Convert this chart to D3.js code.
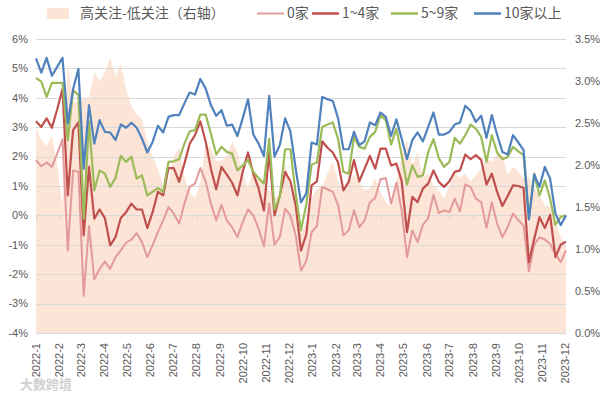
<!DOCTYPE html>
<html><head><meta charset="utf-8">
<script src="https://cdn.jsdelivr.net/npm/d3@7/dist/d3.min.js"></script>
<style>body{margin:0;background:#fff}svg{display:block}</style>
</head><body><svg id="c" width="607" height="399"></svg>
<script>
// ---- data ----
const monthLabels = ["2022-1","2022-2","2022-3","2022-4","2022-5","2022-6","2022-7","2022-8","2022-9","2022-10","2022-11","2022-12",
 "2023-1","2023-2","2023-3","2023-4","2023-5","2023-6","2023-7","2023-8","2023-9","2023-10","2023-11","2023-12"];
const leftTicks = [-4,-3,-2,-1,0,1,2,3,4,5,6];
const rightTicks = [0,0.5,1,1.5,2,2.5,3,3.5];
const seriesNames = ["高关注-低关注（右轴）","0家","1~4家","5~9家","10家以上"];
// weekly observations, first week starting 2022-01-01 (values in %)
const spread = [2.45,2.3,2.22,2.35,2.0,1.5,3.2,2.75,2.75,2.8,2.8,3.1,3.0,3.1,3.27,3.05,3.2,2.9,2.7,2.6,
 2.55,2.28,2.1,1.95,1.75,1.8,2.1,2.2,1.85,1.68,1.6,1.8,2.25,2.2,2.05,2.05,2.1,2.28,2.15,1.9,
 1.72,1.95,1.85,1.75,1.7,1.6,1.65,2.02,1.7,1.5,1.2,1.3,1.6,1.72,1.74,1.9,2.04,1.8,1.7,1.8,
 1.88,1.8,1.7,1.72,1.84,1.68,1.56,1.5,1.8,2.1,2.3,2.0,2.15,1.85,1.9,1.75,1.7,1.6,1.76,1.9,
 1.85,1.9,1.8,1.88,1.96,2.07,2.04,2.13,2.12,1.88,1.98,1.92,1.84,1.86,1.72,1.64,1.52,1.5,1.3,1.15,1.04];
const s0 = [1.88,1.67,1.8,1.65,2.1,2.59,-1.19,1.53,1.48,-2.73,-0.36,-2.18,-1.82,-1.57,-1.82,-1.42,-1.19,-0.93,-0.82,-0.6,
 -0.91,-1.42,-1.02,-0.57,-0.17,0.28,0.06,-0.28,0.4,0.97,1.08,1.61,1.16,0.4,-0.17,0.36,-0.17,-0.4,-0.74,-0.23,
 0.2,0.0,-0.45,-1.05,0.4,-1.0,-0.74,0.23,0.0,-0.68,-1.88,-1.55,-0.57,-0.36,0.97,0.89,0.8,0.35,-0.68,-0.51,
 0.17,-0.4,-0.17,0.45,0.59,1.23,1.27,0.4,1.11,0.17,-1.42,-0.51,-0.91,-0.32,-0.09,0.7,0.08,0.17,0.11,0.57,
 0.14,1.05,0.97,0.57,0.45,-0.43,0.45,-0.28,-0.74,-0.4,0.06,-0.17,-0.34,-1.9,-1.0,-0.74,-0.82,-0.97,-1.31,-1.59,-1.19];
const s14 = [3.2,3.01,3.3,2.98,3.6,4.3,0.68,2.9,3.16,-0.68,1.65,-0.11,0.2,-0.09,-1.02,-0.74,-0.09,0.11,0.4,0.2,
 0.2,-0.43,0.11,0.8,0.68,1.61,1.61,1.14,1.76,2.44,2.73,3.2,2.52,1.59,0.89,1.65,1.39,1.11,0.68,1.48,
 2.14,1.42,0.91,0.17,2.16,0.0,0.68,1.48,1.16,0.34,-1.2,-0.65,1.02,1.16,2.52,2.3,2.14,1.8,0.85,1.14,
 1.88,1.16,1.59,2.02,1.59,2.27,2.27,1.7,1.76,1.16,-0.57,0.63,0.45,0.91,1.08,1.53,1.14,0.97,1.16,1.48,
 1.53,2.07,1.91,2.05,1.88,1.05,1.42,0.8,0.32,0.66,1.02,1.0,0.93,-1.59,-0.8,-0.06,-0.43,0.02,-1.42,-1.0,-0.89];
const s59 = [4.68,4.55,4.03,4.51,4.51,4.51,2.56,4.26,4.09,-0.11,3.2,0.85,1.53,1.42,0.97,1.27,2.02,1.82,2.0,1.25,
 1.36,0.68,0.8,0.93,0.8,1.82,1.84,1.91,2.44,2.86,2.9,3.43,3.43,2.78,2.07,2.33,2.16,2.1,1.53,1.7,
 1.88,1.48,1.27,1.08,2.6,0.2,0.63,2.25,2.25,0.74,-0.5,0.37,1.73,1.8,3.01,3.09,3.16,2.6,1.48,1.42,
 2.67,2.33,2.27,2.67,2.84,3.41,3.24,2.41,2.95,2.05,1.05,1.7,1.31,1.36,2.16,2.59,1.95,1.65,1.82,2.64,
 2.44,2.73,3.09,2.95,2.67,1.82,2.73,2.14,1.91,1.99,2.33,2.18,2.05,-0.11,1.42,0.68,1.19,0.57,-0.32,-0.05,0.0];
const s10 = [5.34,4.86,5.36,4.75,5.05,5.36,3.13,4.3,4.98,1.59,3.75,2.44,3.24,2.84,2.82,2.56,3.09,2.98,3.15,2.98,
 2.61,2.14,2.5,3.05,2.82,3.35,3.41,3.41,3.81,4.18,4.11,4.64,4.32,3.75,3.39,3.58,3.05,3.09,2.7,3.3,
 3.95,2.75,2.44,2.02,4.07,2.0,2.39,3.3,2.86,1.59,0.44,0.75,2.48,2.41,4.03,3.95,3.89,3.3,2.25,2.25,
 2.84,2.39,2.52,3.16,3.07,3.5,3.35,2.7,3.27,2.61,1.91,2.56,2.82,2.52,3.01,3.5,2.75,2.75,2.84,3.09,
 3.16,3.73,3.55,3.18,3.39,2.64,3.41,2.75,2.16,2.07,2.73,2.48,2.22,-0.14,1.39,0.97,1.65,1.25,0.07,-0.33,0.0];

// ---- drawing ----
const svg = d3.select("#c");
const pL = 36, pR = 566, pT = 39, pB = 333;
const startDate = new Date(2022,0,1);
const x = d3.scaleLinear().domain([0, spread.length-1]).range([pL, pR]);
const yL = d3.scaleLinear().domain([-4,6]).range([pB, pT]);
const yR = d3.scaleLinear().domain([0,3.5]).range([pB, pT]);
const monthPos = monthLabels.map(m => {
  const [yy, mm] = m.split("-").map(Number);
  return d3.timeDay.count(startDate, new Date(yy, mm-1, 1)) / 7;
});
const txt = "#595959";
const fontLat = "'Liberation Sans', Arial, sans-serif";
const fontCJK = "'Noto Sans CJK SC', sans-serif";

// area (right axis)
svg.append("path").datum(spread)
  .attr("fill", "#fce4d6")
  .attr("d", d3.area().x((d,i)=>x(i)).y0(yR(0)).y1(d=>yR(d)));

// gridlines
svg.append("g").selectAll("line").data(leftTicks).join("line")
  .attr("x1", pL).attr("x2", pR)
  .attr("y1", d=>Math.round(yL(d))+0.5).attr("y2", d=>Math.round(yL(d))+0.5)
  .attr("stroke", "#d9d9d9").attr("stroke-width", 1);
// category tick marks on zero line
svg.append("g").selectAll("line").data(monthPos).join("line")
  .attr("x1", d=>Math.round(x(d))+0.5).attr("x2", d=>Math.round(x(d))+0.5)
  .attr("y1", Math.round(yL(0))+0.5).attr("y2", Math.round(yL(0))+5)
  .attr("stroke", "#d9d9d9");

// lines
const line = d3.line().x((d,i)=>x(i)).y(d=>yL(d)).curve(d3.curveLinear);
const lineSeries = [
  {v:s0, c:"#e39a9a", w:2},
  {v:s14, c:"#c0504d", w:2.2},
  {v:s59, c:"#9bbb59", w:2.2},
  {v:s10, c:"#4f81bd", w:2.2}
];
lineSeries.forEach(s => {
  svg.append("path").datum(s.v).attr("fill","none").attr("stroke", s.c)
    .attr("stroke-width", s.w).attr("stroke-linejoin","round").attr("d", line);
});

// left axis labels
svg.append("g").selectAll("text").data(leftTicks).join("text")
  .attr("x", 28).attr("y", d=>yL(d)).attr("dy","0.35em")
  .attr("text-anchor","end").attr("fill", txt)
  .style("font", "11px " + fontLat).text(d=>d+"%");
// right axis labels
svg.append("g").selectAll("text").data(rightTicks).join("text")
  .attr("x", 575).attr("y", d=>yR(d)).attr("dy","0.35em")
  .attr("text-anchor","start").attr("fill", txt)
  .style("font", "11px " + fontLat).text(d=>d.toFixed(1)+"%");
// x labels
svg.append("g").selectAll("text").data(monthLabels).join("text")
  .attr("transform", (d,i)=>`translate(${x(monthPos[i])},343) rotate(-90)`)
  .attr("dy","0.35em").attr("text-anchor","end").attr("fill", txt)
  .style("font", "11px " + fontLat).text(d=>d);

// legend
const lg = svg.append("g");
lg.append("rect").attr("x",47).attr("y",8).attr("width",22).attr("height",11).attr("fill","#fce4d6");
lg.append("text").attr("x",80).attr("y",13.5).attr("dy","0.35em").attr("fill",txt)
  .style("font","14px "+fontCJK).text(seriesNames[0]);
const legItems = [
  {x:257, c:"#e39a9a", w:2, t:seriesNames[1]},
  {x:312, c:"#c0504d", w:2.5, t:seriesNames[2]},
  {x:391, c:"#9bbb59", w:2.5, t:seriesNames[3]},
  {x:474, c:"#4f81bd", w:2.5, t:seriesNames[4]}
];
legItems.forEach(it => {
  lg.append("line").attr("x1",it.x).attr("x2",it.x+27).attr("y1",13.5).attr("y2",13.5)
    .attr("stroke",it.c).attr("stroke-width",it.w);
  lg.append("text").attr("x",it.x+30).attr("y",13.5).attr("dy","0.35em").attr("fill",txt)
    .style("font","14px "+fontCJK).text(it.t);
});

// watermark
svg.append("text").attr("x",20).attr("y",389).attr("fill","#d0d0d0")
  .style("font","bold 13px "+fontCJK).text("大数跨境");
</script></body></html>
